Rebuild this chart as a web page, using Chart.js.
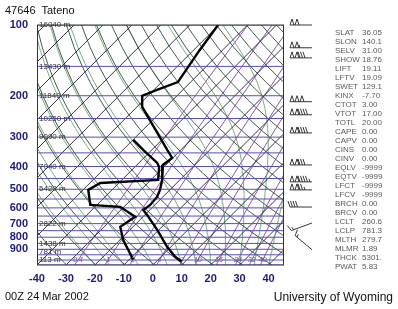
<!DOCTYPE html>
<html>
<head>
<meta charset="utf-8">
<script src="https://cdn.jsdelivr.net/npm/chart.js@4.4.0/dist/chart.umd.min.js"></script>
<style>
  html, body { margin: 0; padding: 0; background: #fff; }
  #wrap { position: relative; width: 398px; height: 309px; font-family: "Liberation Sans", Arial, sans-serif; }
  #wrap canvas { position: absolute; left: 0; top: 0; }
  .txt { position: absolute; white-space: pre; color: #111; }
  #stats { position: absolute; left: 335px; top: 28px; font-size: 8px; line-height: 9px; color: #5a5a5a; }
  #stats div { position: relative; height: 9px; }
  #stats span.v { position: absolute; left: 27px; }
</style>
</head>
<body>
<div id="wrap">
  <canvas id="chart" width="398" height="309"></canvas>
  <div class="txt" style="left:5px;top:4px;font-size:11px;">47646  Tateno</div>
  <div class="txt" style="left:5px;top:290px;font-size:11px;">00Z 24 Mar 2002</div>
  <div class="txt" style="right:5px;top:290px;font-size:12px;">University of Wyoming</div>
  <div id="stats"></div>
</div>

<script>
// ------------------- SOUNDING DATA -------------------
const tempP = [100, 128, 175, 189, 200, 223, 340, 368, 394, 456, 503, 539, 583, 612, 643, 744, 879, 969, 1018];
const tempC = [-60.2, -57.9, -54.4, -58.9, -62.0, -58.2, -34.7, -30.2, -31.0, -26.1, -23.4, -22.0, -21.6, -22.3, -19.2, -10.6, -1.3, 4.9, 9.0];
const dewP = [308, 340, 386, 402, 456, 470, 503, 583, 594, 655, 722, 821, 905, 998];
const dewC = [-49.9, -43.0, -33.7, -31.6, -27.5, -46.4, -48.2, -42.3, -31.3, -22.7, -24.4, -18.9, -13.7, -8.6];

// wind barbs (hPa, knots, direction deg)
const windP = [100, 125, 138, 212, 241, 288, 394, 465, 503, 595, 696, 904];
const windKt = [100, 105, 130, 150, 140, 140, 130, 145, 125, 40, 15, 15];
const windDir = [270, 270, 270, 270, 270, 270, 270, 270, 270, 270, 250, 310];

// height labels on the isobars
const heightP = [100, 150, 200, 250, 300, 400, 500, 700, 850, 925, 1000];
const heightLabels = ["16040 m", "13430 m", "11840 m", "10250 m", "9090 m", "7040 m", "5420 m", "2822 m", "1438 m", "781 m", "113 m"];

// axis ticks
const pressureTicks = [100, 200, 300, 400, 500, 600, 700, 800, 900];
const tempTicks = [-40, -30, -20, -10, 0, 10, 20, 30, 40];

// background diagram lines
const isobars = [100, 150, 200, 250, 300, 350, 400, 450, 500, 550, 600, 650, 700, 750, 800, 850, 900, 950, 1000, 1050];
const isotherms = [-130, -120, -110, -100, -90, -80, -70, -60, -50, -40, -30, -20, -10, 0, 10, 20, 30, 40];
const dryThetaK = [230, 240, 250, 260, 270, 280, 290, 300, 310, 320, 330, 340, 350, 360, 370, 380, 390, 400, 410, 420, 430, 440, 450, 460];
const moistStartC = [-20, -15, -10, -5, 0, 5, 10, 15, 20, 25, 30, 35, 40];
const mixRatios = [0.4, 1, 2, 4, 7, 10, 16, 24, 32, 40];
const mixLabels = ["0.4", "1", "2", "4", "7", "10", "16", "24", "32", "40"];

// station indices
const statNames = ["SLAT", "SLON", "SELV", "SHOW", "LIFT", "LFTV", "SWET", "KINX", "CTOT", "VTOT", "TOTL", "CAPE", "CAPV", "CINS", "CINV", "EQLV", "EQTV", "LFCT", "LFCV", "BRCH", "BRCV", "LCLT", "LCLP", "MLTH", "MLMR", "THCK", "PWAT"];
const statValues = ["36.05", "140.1", "31.00", "18.76", "19.11", "19.09", "129.1", "-7.70", "3.00", "17.00", "20.00", "0.00", "0.00", "0.00", "0.00", "-9999", "-9999", "-9999", "-9999", "0.00", "0.00", "260.6", "781.3", "279.7", "1.89", "5301.", "5.83"];

// ------------------- SKEW-T HELPERS -------------------
const SKEW = 35.2;   // deg C per ln(p) unit, gives 45 degree isotherms
const PBOT = 1050, PTOP = 100;
const skew = (t, p) => t + SKEW * Math.log(PBOT / p);
const toPoints = (ps, ts) => ps.map((p, i) => ({ x: skew(ts[i], p), y: p }));

const levels = [];
for (let p = PBOT; p >= PTOP; p -= 25) levels.push(p);

function satVap(tc) { return 6.112 * Math.exp(17.67 * tc / (tc + 243.5)); }
function dewFromVap(e) { const l = Math.log(e / 6.112); return 243.5 * l / (17.67 - l); }

function moistLine(t0) {
  const Rd = 287.04, cp = 1005.7, Lv = 2.501e6, eps = 0.622;
  const slope = (T, p) => {
    const es = satVap(T - 273.15), rs = eps * es / (p - es);
    return ((Rd * T + Lv * rs) / p) / (cp + (Lv * Lv * rs * eps) / (Rd * T * T));
  };
  let T = t0 + 273.15, p = PBOT;
  const out = [{ x: skew(t0, p), y: p }];
  while (p > PTOP) {
    const dp = -5;
    const k1 = slope(T, p), k2 = slope(T + k1 * dp, p + dp);
    T += 0.5 * (k1 + k2) * dp;
    p += dp;
    if (p % 25 === 0) out.push({ x: skew(T - 273.15, p), y: p });
  }
  return out;
}

function lineSet(data, color, width, dash) {
  return { data, borderColor: color, borderWidth: width, borderDash: dash || [], showLine: true,
           pointRadius: 0, fill: false, tension: 0, order: 10, clip: 0 };
}

const datasets = [];
datasets.push(Object.assign(lineSet(toPoints(tempP, tempC), "#000", 2.4), { order: 0 }));
datasets.push(Object.assign(lineSet(toPoints(dewP, dewC), "#000", 2.4), { order: 0 }));
isobars.forEach(p => datasets.push(lineSet([{ x: -40, y: p }, { x: 45, y: p }], "#5a4fb4", 1)));
isotherms.forEach(t => datasets.push(lineSet([{ x: skew(t, PBOT), y: PBOT }, { x: skew(t, PTOP), y: PTOP }], "#1e1e3c", 0.9)));
dryThetaK.forEach(th => datasets.push(lineSet(levels.map(p => ({ x: skew(th * Math.pow(p / 1000, 0.2857) - 273.15, p), y: p })), "#2e4a3c", 0.9)));
moistStartC.forEach(t0 => datasets.push(lineSet(moistLine(t0), "#6aa86a", 0.9)));
mixRatios.forEach(w => datasets.push(lineSet(levels.map(p => ({ x: skew(dewFromVap(w * p / (622 + w)), p), y: p })), "#8040a8", 0.9)));

// ------------------- OVERLAY PLUGIN -------------------
const overlay = {
  id: "overlay",
  afterDatasetsDraw(chart) {
    const { ctx, chartArea: a, scales: { x, y } } = chart;
    ctx.save();
    // frame
    ctx.strokeStyle = "#333";
    ctx.lineWidth = 1;
    ctx.strokeRect(a.left + 0.5, a.top, a.right - a.left, a.bottom - a.top);

    // height labels
    ctx.font = "8px 'Liberation Sans', Arial";
    ctx.fillStyle = "#333";
    ctx.textBaseline = "middle";
    ctx.textAlign = "left";
    heightP.forEach((p, i) => ctx.fillText(heightLabels[i], a.left + 2, y.getPixelForValue(p)));

    // mixing ratio labels
    ctx.font = "italic 7px 'Liberation Sans', Arial";
    ctx.fillStyle = "#8040a8";
    ctx.textAlign = "center";
    mixRatios.forEach((w, i) => {
      const p = 1000;
      const px = x.getPixelForValue(skew(dewFromVap(w * p / (622 + w)), p));
      if (px > a.left + 30 && px < a.right - 2) ctx.fillText(mixLabels[i], px, y.getPixelForValue(p));
    });

    // wind barbs
    ctx.strokeStyle = "#222";
    ctx.lineWidth = 0.9;
    const baseX = 312;
    windP.forEach((p, i) => {
      const by = y.getPixelForValue(p);
      const d = windDir[i] * Math.PI / 180;
      const ux = Math.sin(d), uy = -Math.cos(d);
      const nx = -uy, ny = ux;
      const len = 22;
      ctx.beginPath();
      ctx.moveTo(baseX, by);
      ctx.lineTo(baseX + ux * len, by + uy * len);
      ctx.stroke();
      let spd = Math.round(windKt[i] / 5) * 5;
      let s = len;
      while (spd >= 50) {
        const x0 = baseX + ux * s, y0 = by + uy * s;
        const x1 = baseX + ux * (s - 4), y1 = by + uy * (s - 4);
        const xa = baseX + ux * (s - 2) + nx * 6, ya = by + uy * (s - 2) + ny * 6;
        ctx.beginPath();
        ctx.moveTo(x0, y0); ctx.lineTo(xa, ya); ctx.lineTo(x1, y1);
        ctx.stroke();
        s -= 5; spd -= 50;
      }
      while (spd >= 10) {
        const x0 = baseX + ux * s, y0 = by + uy * s;
        ctx.beginPath();
        ctx.moveTo(x0, y0);
        ctx.lineTo(x0 + nx * 6 + ux * 2, y0 + ny * 6 + uy * 2);
        ctx.stroke();
        s -= 2.5; spd -= 10;
      }
      if (spd >= 5) {
        const x0 = baseX + ux * s, y0 = by + uy * s;
        ctx.beginPath();
        ctx.moveTo(x0, y0);
        ctx.lineTo(x0 + nx * 3 + ux, y0 + ny * 3 + uy);
        ctx.stroke();
      }
    });
    ctx.restore();
  }
};

// ------------------- STATS PANEL -------------------
const statsEl = document.getElementById("stats");
statNames.forEach((n, i) => {
  statsEl.innerHTML += `<div><span>${n}</span><span class="v">${statValues[i]}</span></div>`;
});

// ------------------- CHART -------------------
new Chart(document.getElementById("chart"), {
  type: "scatter",
  data: { datasets },
  plugins: [overlay],
  options: {
    responsive: false,
    animation: false,
    events: [],
    layout: { padding: { top: 25, right: 115, left: 0, bottom: 0 } },
    plugins: { legend: { display: false }, tooltip: { enabled: false } },
    scales: {
      x: {
        type: "linear", min: -40, max: 45,
        afterFit: s => { s.height = 44; },
        afterBuildTicks: s => { s.ticks = tempTicks.map(v => ({ value: v })); },
        grid: { display: false, drawTicks: false },
        border: { display: false },
        ticks: { padding: 7, color: "#1c1c78", font: { family: "'Liberation Sans', Arial", size: 11, weight: "bold" } }
      },
      y: {
        type: "logarithmic", reverse: true, min: PTOP, max: PBOT,
        afterFit: s => { s.width = 37; },
        afterBuildTicks: s => { s.ticks = pressureTicks.map(v => ({ value: v })); },
        grid: { display: false, drawTicks: false },
        border: { display: false },
        ticks: { padding: 9, color: "#1c1c78", callback: v => String(v),
                 font: { family: "'Liberation Sans', Arial", size: 11, weight: "bold" } }
      }
    }
  }
});
</script>
</body>
</html>
